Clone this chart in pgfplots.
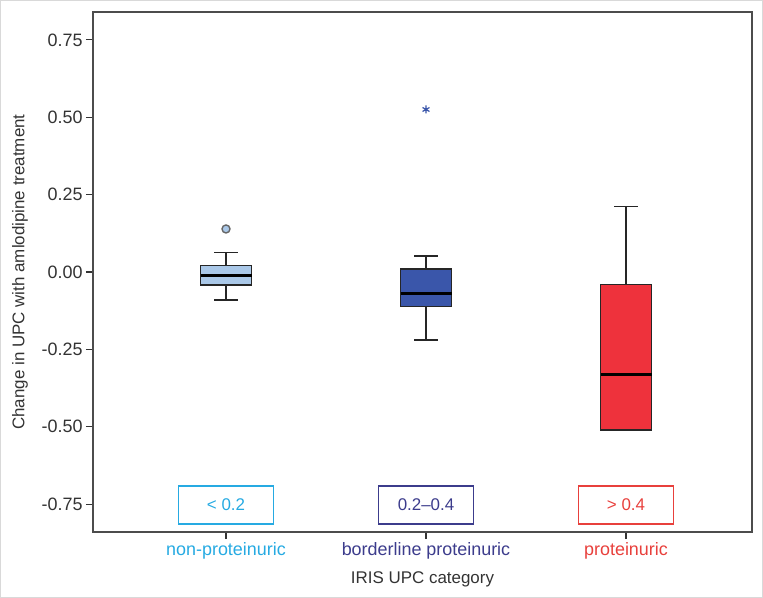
\documentclass[border=0pt]{standalone}
\usepackage{pgfplots}
\pgfplotsset{compat=1.18}
\usepackage{fontspec}
\setmainfont{Liberation Sans}
\definecolor{boxA}{RGB}{170,200,232}
\definecolor{boxB}{RGB}{58,86,170}
\definecolor{boxC}{RGB}{238,50,60}
\definecolor{labA}{RGB}{38,170,226}
\definecolor{labB}{RGB}{60,60,140}
\definecolor{labC}{RGB}{232,64,60}
\begin{document}
\begin{tikzpicture}
\useasboundingbox (0bp,0bp) rectangle (763bp,598bp);
\draw[black!15, line width=1bp] (0.5bp,0.5bp) rectangle (762.5bp,597.5bp);
\begin{axis}[
  at={(93bp,66bp)}, anchor=south west,
  scale only axis, width=659bp, height=520bp,
  xmin=0.335, xmax=3.63, ymin=-0.84, ymax=0.84,
  clip=false,
  axis line style={black!70, line width=1.6bp},
  tick align=outside, tick style={black!80, line width=1.2bp},
  major tick length=7bp,
  xtick={1,2,3},
  xticklabels={\textcolor{labA}{non-proteinuric},\textcolor{labB}{borderline proteinuric},\textcolor{labC}{proteinuric}},
  ytick={-0.75,-0.5,-0.25,0,0.25,0.5,0.75},
  yticklabels={-0.75,-0.50,-0.25,0.00,0.25,0.50,0.75},
  xtick pos=bottom, ytick pos=left,
  ticklabel style={font=\fontsize{18}{21}\selectfont, text=black!80},
  xlabel={IRIS UPC category},
  xlabel style={font=\fontsize{17}{20}\selectfont, text=black!80, at={(axis description cs:0.5,0)}, anchor=center, yshift=-47bp},
]
% ---- non-proteinuric: box, median, whiskers, outlier
\addplot[draw=black!85, fill=boxA, line width=1.3bp] coordinates {(0.8725,-0.042) (1.1275,-0.042) (1.1275,0.022) (0.8725,0.022)} -- cycle;
\addplot[black, line width=2.6bp] coordinates {(0.8725,-0.011) (1.1275,-0.011)};
\addplot[black!85, line width=1.3bp] coordinates {(1,0.022) (1,0.062)};
\addplot[black!85, line width=1.3bp] coordinates {(0.94,0.062) (1.06,0.062)};
\addplot[black!85, line width=1.3bp] coordinates {(1,-0.042) (1,-0.09)};
\addplot[black!85, line width=1.3bp] coordinates {(0.94,-0.09) (1.06,-0.09)};
\addplot[only marks, mark=*, mark size=4bp, mark options={fill=boxA, draw=black!60, line width=1.4bp}] coordinates {(1,0.139)};
% ---- borderline proteinuric
\addplot[draw=black!85, fill=boxB, line width=1.3bp] coordinates {(1.8725,-0.112) (2.1275,-0.112) (2.1275,0.01) (1.8725,0.01)} -- cycle;
\addplot[black, line width=2.6bp] coordinates {(1.8725,-0.07) (2.1275,-0.07)};
\addplot[black!85, line width=1.3bp] coordinates {(2,0.01) (2,0.052)};
\addplot[black!85, line width=1.3bp] coordinates {(1.94,0.052) (2.06,0.052)};
\addplot[black!85, line width=1.3bp] coordinates {(2,-0.112) (2,-0.22)};
\addplot[black!85, line width=1.3bp] coordinates {(1.94,-0.22) (2.06,-0.22)};
\addplot[only marks, mark=asterisk, mark size=4bp, mark options={draw=boxB, line width=1.2bp}] coordinates {(2,0.525)};
% ---- proteinuric
\addplot[draw=black!85, fill=boxC, line width=1.3bp] coordinates {(2.8725,-0.51) (3.1275,-0.51) (3.1275,-0.04) (2.8725,-0.04)} -- cycle;
\addplot[black, line width=2.6bp] coordinates {(2.8725,-0.331) (3.1275,-0.331)};
\addplot[black!85, line width=1.3bp] coordinates {(3,-0.04) (3,0.212)};
\addplot[black!85, line width=1.3bp] coordinates {(2.94,0.212) (3.06,0.212)};
\addplot[black!85, line width=1.6bp] coordinates {(2.94,-0.51) (3.06,-0.51)};
% ---- annotations
\node[rotate=90, font=\fontsize{17}{20}\selectfont, text=black!80] at ([xshift=-73bp]rel axis cs:0,0.5) {Change in UPC with amlodipine treatment};
\node[draw=labA, text=labA, line width=1.5bp, minimum width=95bp, minimum height=38bp, font=\fontsize{17}{20}\selectfont] at ([yshift=-1bp]axis cs:1,-0.75) {< 0.2};
\node[draw=labB, text=labB, line width=1.5bp, minimum width=95bp, minimum height=38bp, font=\fontsize{17}{20}\selectfont] at ([yshift=-1bp]axis cs:2,-0.75) {0.2–0.4};
\node[draw=labC, text=labC, line width=1.5bp, minimum width=95bp, minimum height=38bp, font=\fontsize{17}{20}\selectfont] at ([yshift=-1bp]axis cs:3,-0.75) {> 0.4};
\end{axis}
\end{tikzpicture}
\end{document}
